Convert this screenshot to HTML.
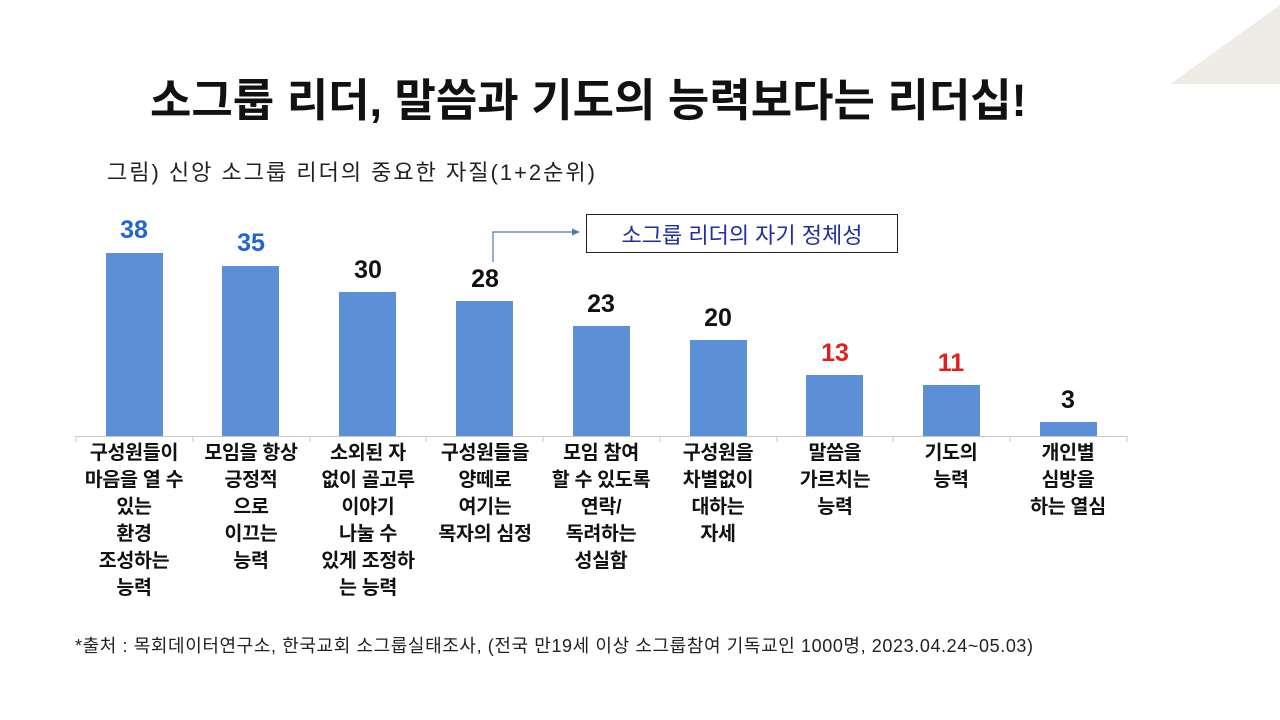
<!DOCTYPE html>
<html><head><meta charset="utf-8"><style>
body{margin:0;width:1280px;height:720px;background:#fff;position:relative;overflow:hidden;font-family:"Liberation Sans","Noto Sans CJK KR",sans-serif;}
.a{position:absolute;}
.bar{position:absolute;width:57px;background:#5b8fd6;}
.v{position:absolute;width:100px;text-align:center;font-weight:bold;font-size:25px;color:#111;}
.l{position:absolute;width:118px;text-align:center;font-weight:bold;font-size:19.5px;line-height:27px;color:#111;top:440px;white-space:nowrap;letter-spacing:-0.3px;}
</style></head><body>
<svg class="a" style="left:0;top:0" width="1280" height="720">
<polygon points="1170,84 1280,84 1280,5" fill="#efece5"/>
<line x1="76" y1="436.5" x2="1127" y2="436.5" stroke="#c8c8c8" stroke-width="1"/>
<g stroke="#c8c8c8"><line x1="76" y1="436" x2="76" y2="442"/><line x1="193" y1="436" x2="193" y2="442"/><line x1="310" y1="436" x2="310" y2="442"/><line x1="426" y1="436" x2="426" y2="442"/><line x1="543" y1="436" x2="543" y2="442"/><line x1="660" y1="436" x2="660" y2="442"/><line x1="777" y1="436" x2="777" y2="442"/><line x1="893" y1="436" x2="893" y2="442"/><line x1="1010" y1="436" x2="1010" y2="442"/><line x1="1127" y1="436" x2="1127" y2="442"/></g>
<polyline points="493,262 493,232 574,232" fill="none" stroke="#4a7bb0" stroke-width="1.2"/>
<polygon points="580,232 572,228.5 572,235.5" fill="#4a7bb0"/>
<rect x="586.5" y="214.5" width="311" height="38" fill="#fff" stroke="#222" stroke-width="1"/>
</svg>
<div class="a" style="left:150px;top:64px;font-size:45px;font-weight:bold;color:#111;white-space:nowrap;">소그룹 리더, 말씀과 기도의 능력보다는 리더십!</div>
<div class="a" style="left:107px;top:155px;font-size:22px;letter-spacing:2px;color:#222;white-space:nowrap;">그림) 신앙 소그룹 리더의 중요한 자질(1+2순위)</div>
<div class="a" style="left:586px;top:218px;width:312px;text-align:center;font-size:22px;color:#1f2fa0;">소그룹 리더의 자기 정체성</div>
<div class="bar" style="left:106px;top:253px;height:183px"></div>
<div class="bar" style="left:222px;top:266px;height:170px"></div>
<div class="bar" style="left:339px;top:292px;height:144px"></div>
<div class="bar" style="left:456px;top:301px;height:135px"></div>
<div class="bar" style="left:573px;top:326px;height:110px"></div>
<div class="bar" style="left:690px;top:340px;height:96px"></div>
<div class="bar" style="left:806px;top:375px;height:61px"></div>
<div class="bar" style="left:923px;top:385px;height:51px"></div>
<div class="bar" style="left:1040px;top:422px;height:14px"></div>
<div class="v" style="left:84px;top:216px;color:#2266cc">38</div>
<div class="v" style="left:201px;top:229px;color:#2266cc">35</div>
<div class="v" style="left:318px;top:256px">30</div>
<div class="v" style="left:435px;top:265px">28</div>
<div class="v" style="left:551px;top:290px">23</div>
<div class="v" style="left:668px;top:304px">20</div>
<div class="v" style="left:785px;top:339px;color:#e02020">13</div>
<div class="v" style="left:901px;top:349px;color:#e02020">11</div>
<div class="v" style="left:1018px;top:386px">3</div>
<div class="l" style="left:75px">구성원들이<br>마음을 열 수<br>있는<br>환경<br>조성하는<br>능력</div>
<div class="l" style="left:192px">모임을 항상<br>긍정적<br>으로<br>이끄는<br>능력</div>
<div class="l" style="left:309px">소외된 자<br>없이 골고루<br>이야기<br>나눌 수<br>있게 조정하<br>는 능력</div>
<div class="l" style="left:426px">구성원들을<br>양떼로<br>여기는<br>목자의 심정</div>
<div class="l" style="left:542px">모임 참여<br>할 수 있도록<br>연락/<br>독려하는<br>성실함</div>
<div class="l" style="left:659px">구성원을<br>차별없이<br>대하는<br>자세</div>
<div class="l" style="left:776px">말씀을<br>가르치는<br>능력</div>
<div class="l" style="left:892px">기도의<br>능력</div>
<div class="l" style="left:1009px">개인별<br>심방을<br>하는 열심</div>
<div class="a" style="left:75px;top:632px;font-size:18px;letter-spacing:0.6px;color:#222;white-space:nowrap;">*출처 : 목회데이터연구소, 한국교회 소그룹실태조사, (전국 만19세 이상 소그룹참여 기독교인 1000명, 2023.04.24~05.03)</div>
</body></html>
